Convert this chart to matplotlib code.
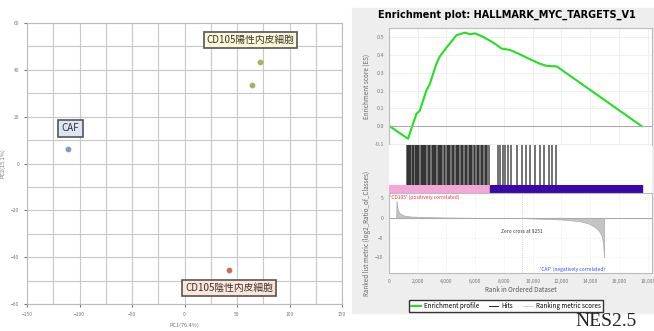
import matplotlib
matplotlib.use('Agg')
import matplotlib.pyplot as plt
from matplotlib.patches import Rectangle
from matplotlib.lines import Line2D

plt.rcParams['font.family'] = ['Noto Sans CJK JP', 'DejaVu Sans']

# PCA scatter data
pc1_caf = [-110.5]
pc2_caf = [6.4]
pc1_pos = [72.0, 64.0]
pc2_pos = [43.4, 33.7]
pc1_neg = [42.2]
pc2_neg = [-45.5]
group_labels = ['CAF', 'CD105陽性内皮細胞', 'CD105陰性内皮細胞']
pc1_label = 'PC1(76.4%)'
pc2_label = 'PC2(15.1%)'

# GSEA running enrichment score
es_rank = [50, 1325, 1910, 2140, 2600, 2840, 3300, 3530, 4000, 4700, 5280, 5630,
           5980, 6560, 7260, 7830, 8420, 9230, 9810, 10500, 10970, 11670, 17590]
es_score = [0.0, -0.07, 0.07, 0.087, 0.2, 0.236, 0.35, 0.39, 0.44, 0.51, 0.524, 0.515,
            0.52, 0.50, 0.468, 0.435, 0.427, 0.398, 0.375, 0.35, 0.338, 0.335, 0.0]

# positions of gene set members in the ranked list
hits = [1260, 1330, 1420, 1480, 1560, 1650, 1700, 1790, 1880, 1950, 2040, 2100,
        2210, 2290, 2350, 2440, 2530, 2600, 2700, 2780, 2850, 2960, 3050, 3120,
        3230, 3300, 3390, 3470, 3560, 3650, 3720, 3810, 3900, 4010, 4080, 4170,
        4260, 4350, 4440, 4520, 4630, 4700, 4790, 4880, 4990, 5080, 5150, 5260,
        5350, 5430, 5540, 5620, 5730, 5810, 5900, 6010, 6090, 6200, 6290, 6380,
        6480, 6560, 6650, 6760, 6850, 6960, 7550, 7700, 7900, 8100, 8300, 8500,
        8900, 9250, 9500, 9800, 10150, 10500, 10800, 11100, 11350, 11650]

# ranked list metric
metric_rank = [500, 520, 600, 750, 1000, 1500, 2500, 4000, 6000, 9251, 10000, 11500,
               12500, 13300, 13900, 14300, 14600, 14800, 14900, 14960, 14970]
metric_value = [0.0, 4.4, 2.2, 1.2, 0.7, 0.4, 0.25, 0.15, 0.07, 0.0, -0.1, -0.25,
                -0.5, -0.8, -1.4, -2.2, -3.2, -4.5, -6.5, -10.0, 0.0]
split_rank = 7000
n_genes = 17590
zero_cross = 9251

fig = plt.figure(figsize=(6.54, 3.31), dpi=100)
W, H = 654, 331


def box(x0, y0, x1, y1):
    return [x0 / W, 1 - y1 / H, (x1 - x0) / W, (y1 - y0) / H]


# ---- left: PCA plot
ax = fig.add_axes(box(27, 23, 342, 304))
ax.scatter(pc1_caf, pc2_caf, s=10, color='#8a98c8', zorder=3)
ax.scatter(pc1_pos, pc2_pos, s=10, color='#a9b25e', zorder=3)
ax.scatter(pc1_neg, pc2_neg, s=10, color='#c9705e', zorder=3)
ax.set_xlim(-150, 150)
ax.set_ylim(-60, 60)
ax.set_xticks(range(-150, 151, 50))
ax.set_yticks(range(-60, 61, 20))
ax.set_xticks(range(-150, 151, 25), minor=True)
ax.set_yticks(range(-60, 61, 10), minor=True)
ax.grid(True, which='both', color='#c8c8c8', lw=0.8)
ax.tick_params(which='both', labelsize=3.5, colors='#777777', length=2)
ax.tick_params(which='minor', length=0)
for s in ax.spines.values():
    s.set_color('#bbbbbb')
ax.set_xlabel(pc1_label, fontsize=4, color='#777777', labelpad=4)
ax.set_ylabel(pc2_label, fontsize=4, color='#777777', labelpad=4)

ax.text(-108.6, 15, group_labels[0], fontsize=7, ha='center', va='center', color='#333333',
        bbox=dict(boxstyle='square,pad=0.35', fc='#dce5f4', ec='#555555', lw=1.2), zorder=4)
ax.text(62.9, 52.7, group_labels[1], fontsize=7, ha='center', va='center', color='#333333',
        bbox=dict(boxstyle='square,pad=0.3', fc='#fdf8d6', ec='#555555', lw=1.2), zorder=4)
ax.text(42.4, -53.3, group_labels[2], fontsize=7, ha='center', va='center', color='#333333',
        bbox=dict(boxstyle='square,pad=0.3', fc='#fde6d6', ec='#555555', lw=1.2), zorder=4)

# ---- right: GSEA enrichment plot
fig.patches.append(Rectangle((352 / W, 1 - 313 / H), (W - 352) / W, (313 - 8) / H,
                             transform=fig.transFigure, color='#eeeeee', zorder=-1))
fig.text(507 / W, 1 - 15 / H, 'Enrichment plot: HALLMARK_MYC_TARGETS_V1',
         fontsize=7, weight='bold', ha='center', va='center', family='DejaVu Sans')

xmax = 18300
ax1 = fig.add_axes(box(389, 28, 652, 145))
ax1.plot(es_rank, es_score, color='#22e022', lw=1.5)
ax1.axhline(0, color='#aaaaaa', lw=0.8)
ax1.set_xlim(0, xmax)
ax1.set_ylim(-0.105, 0.55)
ax1.set_yticks([-0.1, 0.0, 0.1, 0.2, 0.3, 0.4, 0.5])
ax1.set_yticklabels(['-0.1', '0.0', '0.1', '0.2', '0.3', '0.4', '0.5'])
ax1.set_xticks(range(0, 18001, 2000))
ax1.set_xticklabels([])
ax1.grid(True, color='#eeeeee', lw=0.6)
ax1.tick_params(labelsize=4, colors='#777777', length=0)
ax1.set_ylabel('Enrichment score (ES)', fontsize=4.5, color='#666666', labelpad=3)
for s in ax1.spines.values():
    s.set_color('#bbbbbb')

ax2 = fig.add_axes(box(389, 145, 652, 185))
ax2.vlines(hits, 0, 1, color='black', lw=1.1, alpha=0.7)
ax2.set_xlim(0, xmax)
ax2.set_ylim(0, 1)
ax2.set_xticks([])
ax2.set_yticks([])
for s in ax2.spines.values():
    s.set_visible(False)

ax3 = fig.add_axes(box(389, 185, 652, 193))
ax3.axvspan(0, split_rank, color='#f4a8d8')
ax3.axvspan(split_rank, n_genes, color='#3a08a8')
ax3.set_xlim(0, xmax)
ax3.set_xticks([])
ax3.set_yticks([])
for s in ax3.spines.values():
    s.set_visible(False)

ax4 = fig.add_axes(box(389, 193, 652, 273))
ax4.fill_between(metric_rank, metric_value, 0, color='#c4c4c4', lw=0.5, edgecolor='#aaaaaa')
ax4.axhline(0, color='#aaaaaa', lw=0.8)
ax4.axvline(zero_cross, color='#bbbbbb', lw=0.6, ls=':')
ax4.set_xlim(0, xmax)
ax4.set_ylim(-14, 6.4)
ax4.set_yticks([5, 0, -5, -10])
ax4.set_xticks(range(0, 18001, 2000))
ax4.set_xticklabels(['0', '2,000', '4,000', '6,000', '8,000', '10,000', '12,000',
                     '14,000', '16,000', '18,000'])
ax4.grid(True, color='#e6e6e6', lw=0.5, ls=':')
ax4.tick_params(labelsize=3.6, colors='#777777', length=0, pad=4)
ax4.set_xlabel('Rank in Ordered Dataset', fontsize=4.5, color='#555555', labelpad=2)
for s in ax4.spines.values():
    s.set_color('#bbbbbb')
ax4.text(100, 5.2, "'CD105' (positively correlated)", fontsize=3.5, color='#ee3333',
         ha='left', va='center')
ax4.text(15000, -13.0, "'CAF' (negatively correlated)", fontsize=3.5, color='#3344ee',
         ha='right', va='center')
ax4.text(zero_cross, -3.5, 'Zero cross at %d' % zero_cross, fontsize=3.5, color='#333333',
         ha='center', va='center')

fig.text(367 / W, 1 - 233 / H, 'Ranked list metric (log2_Ratio_of_Classes)', fontsize=4.5,
         color='#666666', rotation=90, ha='center', va='center')

handles = [Line2D([], [], color='#22e022', lw=1.5),
           Line2D([], [], color='black', lw=0.6),
           Line2D([], [], color='#cccccc', lw=0.6)]
fig.legend(handles, ['Enrichment profile', 'Hits', 'Ranking metric scores'],
           loc='center', bbox_to_anchor=(506 / W, 1 - 306 / H), ncol=3, fontsize=4.5,
           frameon=True, fancybox=False, edgecolor='#333333', framealpha=1,
           handlelength=1.5, handletextpad=0.5, columnspacing=1.6, borderpad=0.35)

fig.text(606 / W, 1 - 321 / H, 'NES2.5', fontsize=14, family='Liberation Serif',
         color='#222222', ha='center', va='center', zorder=5)

fig.savefig('out.png', dpi=100)
